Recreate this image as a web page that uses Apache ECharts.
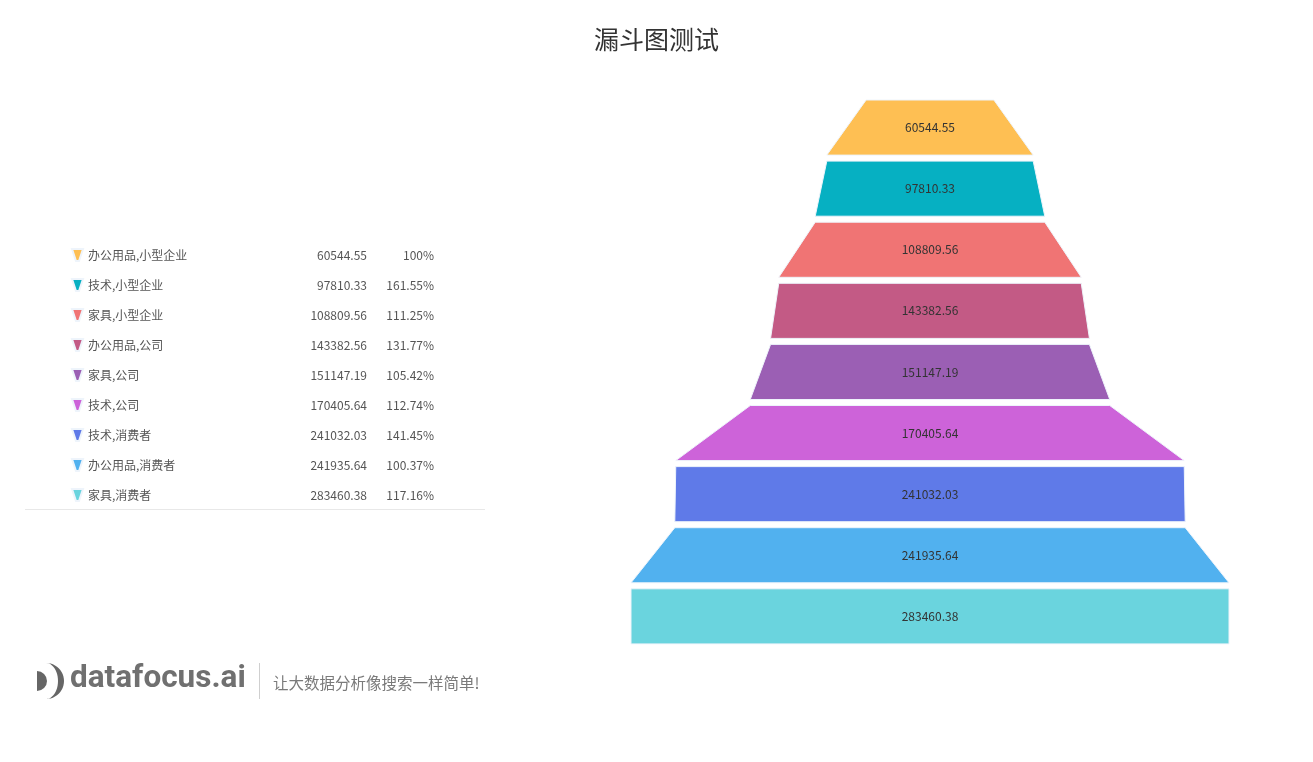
<!DOCTYPE html>
<html>
<head>
<meta charset="utf-8">
<script src="https://cdn.jsdelivr.net/npm/echarts@6/dist/echarts.min.js"></script>
<style>html,body{margin:0;padding:0;background:#fff;}#main{width:1313px;height:762px;}</style>
</head>
<body>
<div id="main"></div>
<script>
const categories = ['办公用品,小型企业','技术,小型企业','家具,小型企业','办公用品,公司','家具,公司','技术,公司','技术,消费者','办公用品,消费者','家具,消费者'];
const values = [60544.55, 97810.33, 108809.56, 143382.56, 151147.19, 170405.64, 241032.03, 241935.64, 283460.38];
const colors = ['#FEBF53','#06B0C2','#F07474','#C35A85','#9B5FB4','#CD63D9','#5F7AE8','#51B1EF','#6AD4DE'];

const pct = values.map((v, i) => i === 0 ? '100%' : (v / values[i - 1] * 100).toFixed(2).replace(/\.?0+$/, '') + '%');
const font = '"Noto Sans CJK SC", "Microsoft YaHei", sans-serif';

// funnel layers: each layer runs from its own value (top edge) to the next value (bottom edge);
// the last layer closes with its own value, via an invisible closing item.
const funnelData = categories.map((c, i) => ({ name: c, value: values[i], itemStyle: { color: colors[i] } }));
funnelData.push({
  name: '__end', value: values[values.length - 1],
  itemStyle: { color: 'rgba(0,0,0,0)', borderWidth: 0 },
  label: { show: false }, tooltip: { show: false }
});

// logo crescent outline (decoration only)
const crescent = [];
for (let k = 0; k <= 24; k++) { const a = -Math.PI / 2 + Math.PI * k / 24; crescent.push([46 + 18 * Math.cos(a), 681 + 18 * Math.sin(a)]); }
for (let k = 24; k >= 0; k--) { const a = -Math.PI / 2 + Math.PI * k / 24; crescent.push([46 + 12 * Math.cos(a), 681 + 18 * Math.sin(a)]); }

const chart = echarts.init(document.getElementById('main'));
chart.setOption({
  title: {
    text: '漏斗图测试', left: 'center', top: 22,
    textStyle: { fontSize: 25, fontWeight: 'normal', color: '#333', fontFamily: font }
  },
  legend: {
    orient: 'vertical', left: 66, top: 243, itemGap: 16,
    itemWidth: 11, itemHeight: 12,
    icon: 'path://M0,0L11,0L7,12L4,12Z',
    data: categories,
    formatter: function (name) {
      const i = categories.indexOf(name);
      return '{n|' + name + '}{v|' + values[i] + '}{p|' + pct[i] + '}';
    },
    textStyle: {
      fontFamily: font, fontSize: 12, color: '#555',
      rich: {
        n: { width: 199, fontSize: 12, color: '#555', fontFamily: font },
        v: { width: 80, align: 'right', fontSize: 12, color: '#555', fontFamily: font },
        p: { width: 67, align: 'right', fontSize: 12, color: '#555', fontFamily: font }
      }
    }
  },
  graphic: [
    { type: 'line', shape: { x1: 25, y1: 509.5, x2: 485, y2: 509.5 }, style: { stroke: '#e8e8e8', lineWidth: 1 } },
    { type: 'sector', shape: { cx: 37, cy: 681, r0: 0, r: 10, startAngle: -Math.PI / 2, endAngle: Math.PI / 2 }, style: { fill: '#666' } },
    { type: 'polygon', shape: { points: crescent }, style: { fill: '#666' } },
    { type: 'text', left: 70, top: 663, style: { text: 'datafocus.ai', fontSize: 31.5, fontWeight: 'bold', fill: '#707070', fontFamily: 'Roboto, sans-serif' } },
    { type: 'line', shape: { x1: 259.5, y1: 663, x2: 259.5, y2: 699 }, style: { stroke: '#cfcfcf', lineWidth: 1 } },
    { type: 'text', left: 273, top: 675, style: { text: '让大数据分析像搜索一样简单!', fontSize: 15.5, fill: '#7a7a7a', fontFamily: font } }
  ],
  series: [{
    type: 'funnel',
    left: 631, top: 100, width: 598, height: 605,
    min: 0, max: Math.max(...values),
    minSize: '0%', maxSize: '100%',
    sort: 'none', gap: 6,
    label: { show: true, position: 'inside', color: '#333', fontSize: 12, fontFamily: font,
      formatter: p => p.value },
    labelLine: { show: false },
    itemStyle: { borderColor: '#eef4fb', borderWidth: 1 },
    emphasis: { disabled: true },
    data: funnelData
  }]
});
</script>
</body>
</html>
